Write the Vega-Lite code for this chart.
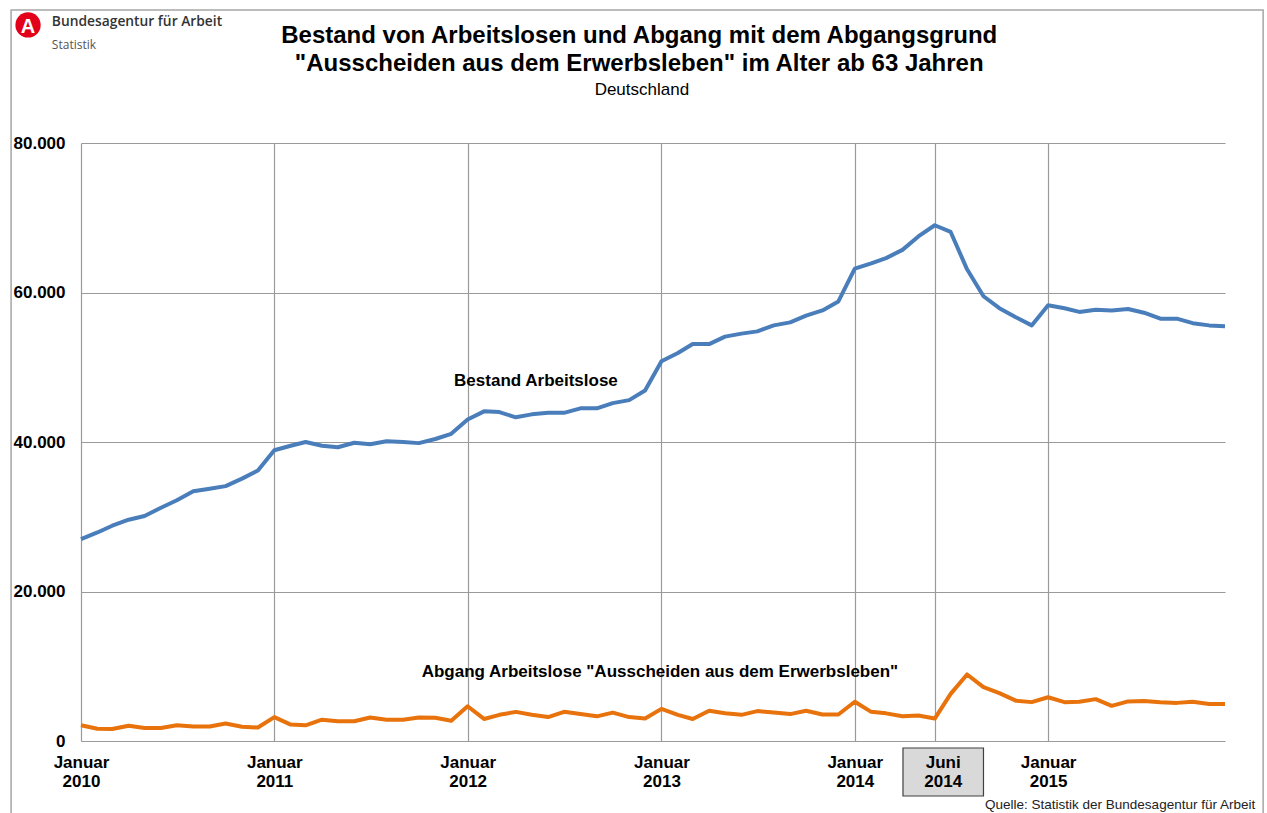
{
  "$schema": "https://vega.github.io/schema/vega-lite/v6.json",
  "width": 1144,
  "height": 598,
  "autosize": {"type": "none"},
  "padding": {"left": 81, "top": 143, "right": 42, "bottom": 72},
  "background": "white",
  "config": {"font": "Liberation Sans", "view": {"stroke": null}},
  "data": {
    "values": [
      {"datum": "2010-01-01", "bestand": 27000, "abgang": 2100},
      {"datum": "2010-02-01", "bestand": 27900, "abgang": 1650},
      {"datum": "2010-03-01", "bestand": 28800, "abgang": 1600},
      {"datum": "2010-04-01", "bestand": 29600, "abgang": 2050},
      {"datum": "2010-05-01", "bestand": 30100, "abgang": 1750},
      {"datum": "2010-06-01", "bestand": 31200, "abgang": 1750},
      {"datum": "2010-07-01", "bestand": 32200, "abgang": 2100},
      {"datum": "2010-08-01", "bestand": 33400, "abgang": 1950},
      {"datum": "2010-09-01", "bestand": 33750, "abgang": 1950},
      {"datum": "2010-10-01", "bestand": 34100, "abgang": 2350},
      {"datum": "2010-11-01", "bestand": 35100, "abgang": 1900},
      {"datum": "2010-12-01", "bestand": 36200, "abgang": 1800},
      {"datum": "2011-01-01", "bestand": 38900, "abgang": 3200},
      {"datum": "2011-02-01", "bestand": 39500, "abgang": 2200},
      {"datum": "2011-03-01", "bestand": 40000, "abgang": 2100},
      {"datum": "2011-04-01", "bestand": 39500, "abgang": 2850},
      {"datum": "2011-05-01", "bestand": 39300, "abgang": 2650},
      {"datum": "2011-06-01", "bestand": 39900, "abgang": 2650},
      {"datum": "2011-07-01", "bestand": 39700, "abgang": 3150},
      {"datum": "2011-08-01", "bestand": 40100, "abgang": 2850},
      {"datum": "2011-09-01", "bestand": 40000, "abgang": 2850},
      {"datum": "2011-10-01", "bestand": 39850, "abgang": 3150},
      {"datum": "2011-11-01", "bestand": 40400, "abgang": 3100},
      {"datum": "2011-12-01", "bestand": 41100, "abgang": 2700},
      {"datum": "2012-01-01", "bestand": 43000, "abgang": 4650},
      {"datum": "2012-02-01", "bestand": 44100, "abgang": 2950},
      {"datum": "2012-03-01", "bestand": 44000, "abgang": 3500},
      {"datum": "2012-04-01", "bestand": 43300, "abgang": 3900},
      {"datum": "2012-05-01", "bestand": 43700, "abgang": 3500},
      {"datum": "2012-06-01", "bestand": 43900, "abgang": 3200},
      {"datum": "2012-07-01", "bestand": 43900, "abgang": 3900},
      {"datum": "2012-08-01", "bestand": 44500, "abgang": 3600},
      {"datum": "2012-09-01", "bestand": 44500, "abgang": 3300},
      {"datum": "2012-10-01", "bestand": 45200, "abgang": 3800},
      {"datum": "2012-11-01", "bestand": 45600, "abgang": 3200},
      {"datum": "2012-12-01", "bestand": 46900, "abgang": 3000},
      {"datum": "2013-01-01", "bestand": 50800, "abgang": 4300},
      {"datum": "2013-02-01", "bestand": 51900, "abgang": 3500},
      {"datum": "2013-03-01", "bestand": 53100, "abgang": 2950},
      {"datum": "2013-04-01", "bestand": 53100, "abgang": 4050},
      {"datum": "2013-05-01", "bestand": 54100, "abgang": 3700},
      {"datum": "2013-06-01", "bestand": 54500, "abgang": 3500},
      {"datum": "2013-07-01", "bestand": 54800, "abgang": 4000},
      {"datum": "2013-08-01", "bestand": 55600, "abgang": 3800},
      {"datum": "2013-09-01", "bestand": 56000, "abgang": 3600},
      {"datum": "2013-10-01", "bestand": 56900, "abgang": 4050},
      {"datum": "2013-11-01", "bestand": 57600, "abgang": 3550},
      {"datum": "2013-12-01", "bestand": 58800, "abgang": 3550},
      {"datum": "2014-01-01", "bestand": 63200, "abgang": 5250},
      {"datum": "2014-02-01", "bestand": 63900, "abgang": 3900},
      {"datum": "2014-03-01", "bestand": 64600, "abgang": 3700},
      {"datum": "2014-04-01", "bestand": 65700, "abgang": 3300},
      {"datum": "2014-05-01", "bestand": 67500, "abgang": 3400},
      {"datum": "2014-06-01", "bestand": 69000, "abgang": 3000},
      {"datum": "2014-07-01", "bestand": 68100, "abgang": 6300},
      {"datum": "2014-08-01", "bestand": 63100, "abgang": 8900},
      {"datum": "2014-09-01", "bestand": 59500, "abgang": 7200},
      {"datum": "2014-10-01", "bestand": 57900, "abgang": 6400},
      {"datum": "2014-11-01", "bestand": 56700, "abgang": 5400},
      {"datum": "2014-12-01", "bestand": 55600, "abgang": 5200},
      {"datum": "2015-01-01", "bestand": 58300, "abgang": 5850},
      {"datum": "2015-02-01", "bestand": 57900, "abgang": 5200},
      {"datum": "2015-03-01", "bestand": 57400, "abgang": 5250},
      {"datum": "2015-04-01", "bestand": 57700, "abgang": 5600},
      {"datum": "2015-05-01", "bestand": 57600, "abgang": 4700},
      {"datum": "2015-06-01", "bestand": 57800, "abgang": 5300},
      {"datum": "2015-07-01", "bestand": 57300, "abgang": 5350},
      {"datum": "2015-08-01", "bestand": 56500, "abgang": 5200},
      {"datum": "2015-09-01", "bestand": 56500, "abgang": 5100},
      {"datum": "2015-10-01", "bestand": 55900, "abgang": 5250},
      {"datum": "2015-11-01", "bestand": 55600, "abgang": 4950},
      {"datum": "2015-12-01", "bestand": 55500, "abgang": 4950}
    ]
  },
  "layer": [
    {
      "mark": {"type": "line", "strokeWidth": 4, "color": "#4A7EBB", "strokeJoin": "round"},
      "encoding": {
        "x": {
          "field": "datum", "type": "temporal",
          "scale": {"type": "utc", "domain": [{"year": 2010, "month": 1, "date": 1, "utc": true}, {"year": 2015, "month": 12, "date": 1, "utc": true}]},
          "axis": {
            "title": null,
            "values": [
              {"year": 2010, "month": 1, "date": 1, "utc": true},
              {"year": 2011, "month": 1, "date": 1, "utc": true},
              {"year": 2012, "month": 1, "date": 1, "utc": true},
              {"year": 2013, "month": 1, "date": 1, "utc": true},
              {"year": 2014, "month": 1, "date": 1, "utc": true},
              {"year": 2014, "month": 6, "date": 1, "utc": true},
              {"year": 2015, "month": 1, "date": 1, "utc": true}
            ],
            "labelExpr": "utcmonth(datum.value) == 0 ? ['Januar', '' + utcyear(datum.value)] : ''",
            "labelFont": "Liberation Sans",
            "labelFontSize": 17,
            "labelFontWeight": "bold",
            "labelColor": "#000000",
            "labelLineHeight": 19,
            "labelPadding": 13,
            "labelBaseline": "top",
            "labelAlign": "center",
            "labelOverlap": false,
            "labelFlush": false,
            "ticks": false,
            "domain": false,
            "grid": true,
            "gridColor": "#9a9a9a",
            "gridWidth": 1.2
          }
        },
        "y": {
          "field": "bestand", "type": "quantitative",
          "scale": {"domain": [0, 80000], "nice": false, "zero": false},
          "axis": {
            "title": null,
            "values": [0, 20000, 40000, 60000, 80000],
            "labelExpr": "replace(format(datum.value, ','), ',', '.')",
            "labelFont": "Liberation Sans",
            "labelFontSize": 17,
            "labelFontWeight": "bold",
            "labelColor": "#000000",
            "labelPadding": 16,
            "ticks": false,
            "domain": false,
            "grid": true,
            "gridColor": "#9a9a9a",
            "gridWidth": 1.2
          }
        }
      }
    },
    {
      "mark": {"type": "line", "strokeWidth": 4, "color": "#E8720C", "strokeJoin": "round"},
      "encoding": {
        "x": {"field": "datum", "type": "temporal"},
        "y": {"field": "abgang", "type": "quantitative"}
      }
    },
    {
      "data": {"values": [{}]},
      "mark": {"type": "rect", "fillOpacity": 0, "stroke": "#a6a6a6", "strokeWidth": 1.5},
      "encoding": {
        "x": {"datum": {"year": 2009, "month": 8, "date": 22, "utc": true}, "type": "temporal"},
        "x2": {"datum": {"year": 2016, "month": 2, "date": 11, "utc": true}},
        "y": {"datum": 97800, "type": "quantitative"},
        "y2": {"datum": -12000}
      }
    },
    {
      "data": {"values": [{}]},
      "mark": {"type": "rect", "fill": "#d9d9d9", "stroke": "#404040", "strokeWidth": 1.2},
      "encoding": {
        "x": {"datum": {"year": 2014, "month": 4, "date": 2, "utc": true}, "type": "temporal"},
        "x2": {"datum": {"year": 2014, "month": 9, "date": 1, "utc": true}},
        "y": {"datum": -936, "type": "quantitative"},
        "y2": {"datum": -7358}
      }
    },
    {
      "data": {"values": [{}]},
      "mark": {"type": "text", "text": ["Juni", "2014"], "font": "Liberation Sans", "fontSize": 17, "fontWeight": "bold", "lineHeight": 19, "align": "center", "baseline": "middle", "color": "#000000"},
      "encoding": {
        "x": {"datum": {"year": 2014, "month": 6, "date": 17, "utc": true}, "type": "temporal"},
        "y": {"datum": -2900, "type": "quantitative"}
      }
    },
    {
      "data": {"values": [{}]},
      "mark": {"type": "text", "text": "Bestand Arbeitslose", "font": "Liberation Sans", "fontSize": 17, "fontWeight": "bold", "align": "center", "baseline": "middle", "color": "#000000"},
      "encoding": {
        "x": {"datum": {"year": 2012, "month": 5, "date": 9, "utc": true}, "type": "temporal"},
        "y": {"datum": 48160, "type": "quantitative"}
      }
    },
    {
      "data": {"values": [{}]},
      "mark": {"type": "text", "text": "Abgang Arbeitslose \"Ausscheiden aus dem Erwerbsleben\"", "font": "Liberation Sans", "fontSize": 17, "fontWeight": "bold", "align": "center", "baseline": "middle", "color": "#000000"},
      "encoding": {
        "x": {"datum": {"year": 2012, "month": 12, "date": 29, "utc": true}, "type": "temporal"},
        "y": {"datum": 9230, "type": "quantitative"}
      }
    },
    {
      "data": {"values": [{}]},
      "mark": {"type": "text", "text": ["Bestand von Arbeitslosen und Abgang mit dem Abgangsgrund", "\"Ausscheiden aus dem Erwerbsleben\" im Alter ab 63 Jahren"], "font": "Liberation Sans", "fontSize": 24, "fontWeight": "bold", "lineHeight": 28, "align": "center", "baseline": "middle", "color": "#000000"},
      "encoding": {
        "x": {"datum": {"year": 2012, "month": 11, "date": 20, "utc": true}, "type": "temporal"},
        "y": {"datum": 94310, "type": "quantitative"}
      }
    },
    {
      "data": {"values": [{}]},
      "mark": {"type": "text", "text": "Deutschland", "font": "Liberation Sans", "fontSize": 17, "align": "center", "baseline": "middle", "color": "#000000"},
      "encoding": {
        "x": {"datum": {"year": 2012, "month": 11, "date": 25, "utc": true}, "type": "temporal"},
        "y": {"datum": 87090, "type": "quantitative"}
      }
    },
    {
      "data": {"values": [{}]},
      "mark": {"type": "point", "shape": "circle", "filled": true, "size": 640, "color": "#E2001A", "opacity": 1},
      "encoding": {
        "x": {"datum": {"year": 2009, "month": 9, "date": 23, "utc": true}, "type": "temporal"},
        "y": {"datum": 95790, "type": "quantitative"}
      }
    },
    {
      "data": {"values": [{}]},
      "mark": {"type": "text", "text": "A", "font": "Liberation Sans", "fontSize": 20, "fontWeight": "bold", "align": "center", "baseline": "middle", "color": "#ffffff"},
      "encoding": {
        "x": {"datum": {"year": 2009, "month": 9, "date": 23, "utc": true}, "type": "temporal"},
        "y": {"datum": 95500, "type": "quantitative"}
      }
    },
    {
      "data": {"values": [{}]},
      "mark": {"type": "text", "text": "Bundesagentur für Arbeit", "font": "Open Sans", "fontSize": 13.8, "fontWeight": 600, "align": "left", "baseline": "middle", "color": "#333333"},
      "encoding": {
        "x": {"datum": {"year": 2009, "month": 11, "date": 7, "utc": true}, "type": "temporal"},
        "y": {"datum": 96200, "type": "quantitative"}
      }
    },
    {
      "data": {"values": [{}]},
      "mark": {"type": "text", "text": "Statistik", "font": "Open Sans", "fontSize": 12, "align": "left", "baseline": "middle", "color": "#555555"},
      "encoding": {
        "x": {"datum": {"year": 2009, "month": 11, "date": 7, "utc": true}, "type": "temporal"},
        "y": {"datum": 93100, "type": "quantitative"}
      }
    },
    {
      "data": {"values": [{}]},
      "mark": {"type": "text", "text": "Quelle: Statistik der Bundesagentur für Arbeit", "font": "Liberation Sans", "fontSize": 13.5, "align": "right", "baseline": "alphabetic", "color": "#222222"},
      "encoding": {
        "x": {"datum": {"year": 2016, "month": 1, "date": 27, "utc": true}, "type": "temporal"},
        "y": {"datum": -9100, "type": "quantitative"}
      }
    }
  ]
}
